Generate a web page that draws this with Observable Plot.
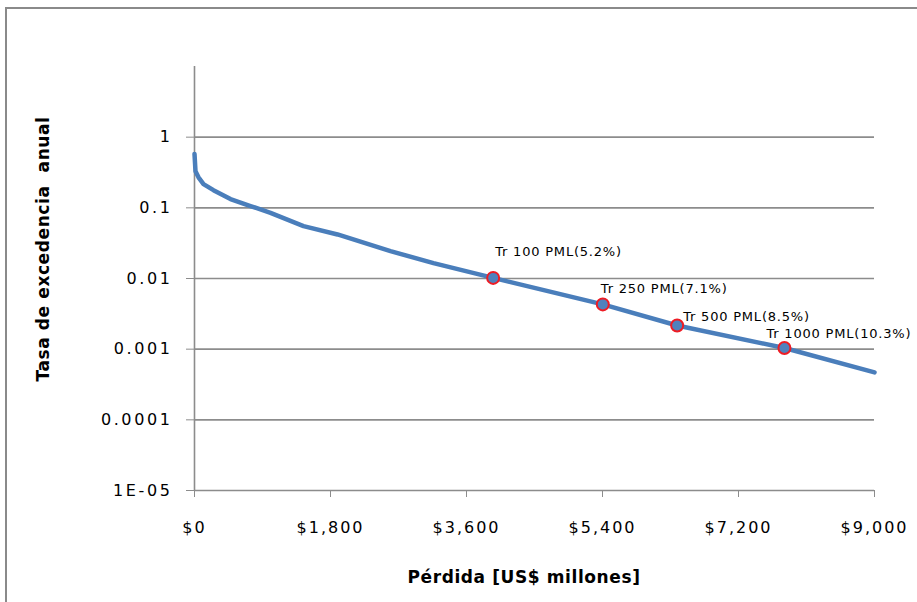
<!DOCTYPE html>
<html>
<head>
<meta charset="utf-8">
<script src="https://cdn.jsdelivr.net/npm/d3@7"></script>
<script src="https://cdn.jsdelivr.net/npm/@observablehq/plot@0.6"></script>
<style>
  html, body { margin: 0; padding: 0; background: #fff; }
  body { width: 917px; height: 602px; overflow: hidden; position: relative; font-family: "DejaVu Sans", sans-serif; }
  #frame { position: absolute; left: 5px; top: 7px; width: 1000px; height: 1000px; border: 2px solid #8a8a8a; box-sizing: border-box; }
  #chart { position: absolute; left: 0; top: 0; }
  #chart svg { overflow: visible; }
  g[aria-label="y-axis tick label"] text { letter-spacing: 2.6px; }
  g[aria-label="x-axis tick label"] text { letter-spacing: 2px; }
  g.pml-label text { letter-spacing: 0.8px; }
  .title { position: absolute; font-weight: bold; font-size: 17px; color: #000; white-space: pre; letter-spacing: 0.6px; }
  #xtitle { left: 374px; top: 567px; width: 300px; text-align: center; }
  #ytitle { left: 43px; top: 249px; transform: translate(-50%, -50%) rotate(-90deg); }
</style>
</head>
<body>
<div id="frame"></div>
<div id="chart"></div>
<div class="title" id="xtitle">Pérdida [US$ millones]</div>
<div class="title" id="ytitle">Tasa de excedencia  anual</div>
<script>
// Loss exceedance curve
const losses = [0, 13, 53, 119, 251, 476, 741, 1006, 1443, 1893, 2594, 3163, 3953, 5404, 6388, 7808, 9000];
const rates  = [0.58, 0.33, 0.27, 0.217, 0.178, 0.133, 0.106, 0.085, 0.055, 0.042, 0.0244, 0.0165, 0.0102, 0.0043, 0.00216, 0.00104, 0.00047];

// Return-period markers
const markerLoss = [3953, 5404, 6388, 7808];
const markerRate = [0.0102, 0.0043, 0.00216, 0.00104];
const markerText = ["Tr 100 PML(5.2%)", "Tr 250 PML(7.1%)", "Tr 500 PML(8.5%)", "Tr 1000 PML(10.3%)"];

// Axis ticks
const xTicks = [0, 1800, 3600, 5400, 7200, 9000];
const yTicks = [1e-5, 1e-4, 1e-3, 1e-2, 1e-1, 1];
const yTickLabels = ["1E-05", "0.0001", "0.001", "0.01", "0.1", "1"];

const curve = losses.map((x, i) => ({x, y: rates[i]}));
const markers = markerLoss.map((x, i) => ({x, y: markerRate[i], label: markerText[i]}));

// label placement offsets (styling, not data)
const labelOffsets = [[2, -26], [-2, -16], [6, -9], [-18, -14]];

const grey = "#8c8c8c";
const fmtX = d => "$" + d3.format(",")(d);
const fmtY = d => {
  const k = yTicks.findIndex(t => Math.abs(Math.log10(t) - Math.log10(d)) < 1e-6);
  return k >= 0 ? yTickLabels[k] : "";
};

const chart = Plot.plot({
  width: 917,
  height: 602,
  marginLeft: 194,
  marginRight: 43,
  marginTop: 66,
  marginBottom: 112,
  style: { fontFamily: "DejaVu Sans, sans-serif", background: "transparent" },
  x: { domain: [0, 9000] },
  y: { type: "log", domain: [1e-5, 10] },
  marks: [
    Plot.gridY(yTicks.slice(1), { stroke: grey, strokeOpacity: 1, strokeWidth: 1.6 }),
    Plot.ruleY([1e-5], { stroke: grey, strokeWidth: 1.6 }),
    Plot.ruleX([0], { stroke: grey, strokeWidth: 1.6 }),
    Plot.axisY(yTicks, {
      tickSize: 8, tickPadding: 14, stroke: grey, fontSize: 16, fill: "#000",
      tickFormat: fmtY, label: null
    }),
    Plot.axisX(xTicks, {
      tickSize: 7, tickPadding: 24, stroke: grey, fontSize: 16, fill: "#000",
      tickFormat: fmtX, label: null
    }),
    Plot.line(curve, { x: "x", y: "y", stroke: "#4a7ebb", strokeWidth: 4.5, strokeLinejoin: "round", strokeLinecap: "round" }),
    Plot.dot(markers, { x: "x", y: "y", r: 6, fill: "#4f81bd", stroke: "#ee1c24", strokeWidth: 2 }),
    ...markers.map((m, i) => Plot.text([m], {
      x: "x", y: "y", text: "label", textAnchor: "start",
      dx: labelOffsets[i][0], dy: labelOffsets[i][1], fontSize: 13, fill: "#000",
      className: "pml-label"
    }))
  ]
});
document.getElementById("chart").appendChild(chart);
</script>
</body>
</html>
